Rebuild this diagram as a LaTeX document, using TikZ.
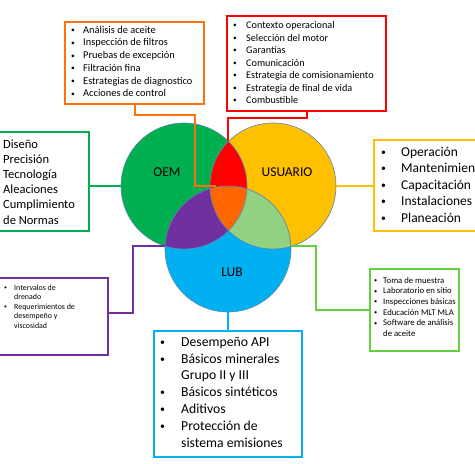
\documentclass[tikz,border=0pt]{standalone}
\usepackage{fontspec}
\setmainfont{Carlito}
\definecolor{oemc}{HTML}{00B050}
\definecolor{usrc}{HTML}{FFC000}
\definecolor{lubc}{HTML}{00B0F0}
\definecolor{redc}{HTML}{FF0000}
\definecolor{purc}{HTML}{7030A0}
\definecolor{lgc}{HTML}{92D182}
\definecolor{orc}{HTML}{FF6600}
\definecolor{obord}{HTML}{FF7010}
\definecolor{lgbord}{HTML}{62D040}
\definecolor{circline}{HTML}{5A86B0}
\newcommand{\bul}[1]{\makebox[#1][l]{\raisebox{0.12ex}{\scalebox{0.72}{•}}}}
\newcommand{\ind}[1]{\hspace*{#1}}
\tikzset{
  box/.style={draw, line width=2pt, inner sep=0pt, rectangle},
  txt/.style={inner sep=0pt, anchor=north west, align=left},
  venn/.style={circle, minimum size=126pt, inner sep=0pt},
  conn/.style={line width=2pt},
  vlabel/.style={inner sep=0pt, font=\fontsize{13.5}{16}\selectfont}
}
\begin{document}
\begin{tikzpicture}[x=1pt,y=-1pt]
\useasboundingbox (0,0) rectangle (475,464);
\clip (0,0) rectangle (475,464);
% Venn circles
\node[venn, fill=oemc] (oem) at (184,186) {};
\node[venn, fill=usrc] (usr) at (273,186) {};
\node[venn, fill=lubc] (lub) at (228,249) {};
\begin{scope}
  \clip (oem.center) circle[radius=63];
  \fill[redc] (usr.center) circle[radius=63];
  \fill[purc] (lub.center) circle[radius=63];
\end{scope}
\begin{scope}
  \clip (usr.center) circle[radius=63];
  \fill[lgc] (lub.center) circle[radius=63];
\end{scope}
\begin{scope}
  \clip (oem.center) circle[radius=63];
  \clip (usr.center) circle[radius=63];
  \fill[orc] (lub.center) circle[radius=63];
\end{scope}
\draw[circline, line width=0.6pt] (oem.center) circle[radius=63]
  (usr.center) circle[radius=63] (lub.center) circle[radius=63];
\node[vlabel] (loem) at (167,172.5) {OEM};
\node[vlabel] (lusr) at (287,172.5) {USUARIO};
\node[vlabel] (llub) at (232,272.5) {LUB};

% boxes
\node[box, draw=obord, minimum width=139pt, minimum height=82pt] (obox) at (134.5,63) {};
\node[box, draw=redc, minimum width=159pt, minimum height=95pt] (rbox) at (306.5,63.5) {};
\node[box, draw=oemc, minimum width=94pt, minimum height=99pt] (gbox) at (42,181.5) {};
\node[box, draw=usrc, minimum width=146pt, minimum height=91pt] (ybox) at (447,185.5) {};
\node[box, draw=purc, minimum width=113pt, minimum height=77pt] (pbox) at (51.5,316.5) {};
\node[box, draw=lgbord, minimum width=89pt, minimum height=82pt] (lgbox) at (414.5,310) {};
\node[box, draw=lubc, minimum width=148pt, minimum height=126pt] (bbox) at (228,394) {};

% texts
\node[txt, font=\fontsize{10.4}{12.7}\selectfont] (otxt) at (71,24.2) {\strut\bul{12pt}Análisis de aceite\\
\bul{12pt}Inspección de filtros\\
\bul{12pt}Pruebas de excepción\\
\bul{12pt}Filtración fina\\
\bul{12pt}Estrategias de diagnostico\\
\bul{12pt}Acciones de control};
\node[txt, font=\fontsize{10.2}{12.5}\selectfont] (rtxt) at (233,19.6) {\strut\bul{13pt}Contexto operacional\\
\bul{13pt}Selección del motor\\
\bul{13pt}Garantías\\
\bul{13pt}Comunicación\\
\bul{13pt}Estrategia de comisionamiento\\
\bul{13pt}Estrategia de final de vida\\
\bul{13pt}Combustible};
\node[txt, font=\fontsize{12.5}{15.2}\selectfont] (gtxt) at (3,137.3) {\strut Diseño\\
Precisión\\
Tecnología\\
Aleaciones\\
Cumplimiento\\
de Normas};
\node[txt, font=\fontsize{13.5}{16.5}\selectfont] (ytxt) at (381,144.5) {\strut\bul{20pt}Operación\\
\bul{20pt}Mantenimiento\\
\bul{20pt}Capacitación\\
\bul{20pt}Instalaciones\\
\bul{20pt}Planeación};
\node[txt, font=\fontsize{7.9}{9.5}\selectfont] (ptxt) at (4,283.2) {\strut\bul{10pt}Intervalos de\\
\ind{10pt}drenado\\
\bul{10pt}Requerimientos de\\
\ind{10pt}desempeño y\\
\ind{10pt}viscosidad};
\node[txt, font=\fontsize{8.7}{10.6}\selectfont] (lgtxt) at (374,275.6) {\strut\bul{9pt}Toma de muestra\\
\bul{9pt}Laboratorio en sitio\\
\bul{9pt}Inspecciones básicas\\
\bul{9pt}Educación MLT MLA\\
\bul{9pt}Software de análisis\\
\ind{9pt}de aceite};
\node[txt, font=\fontsize{13.7}{16.8}\selectfont] (btxt) at (160,334.4) {\strut\bul{21pt}Desempeño API\\
\bul{21pt}Básicos minerales\\
\ind{21pt}Grupo II y III\\
\bul{21pt}Básicos sintéticos\\
\bul{21pt}Aditivos\\
\bul{21pt}Protección de\\
\ind{21pt}sistema emisiones};

% connectors
\coordinate (otop) at (216,186);
\coordinate (oturn) at (195,115);
\coordinate (rlens) at (228,141);
\coordinate (pturn) at (133,313);
\coordinate (pend) at (165.1,246);
\coordinate (lgend) at (291,246);
\draw[conn, obord] (obox.south) |- (oturn) |- (otop);
\draw[conn, redc] (rbox.south) -- ++(0,6) -| (rlens);
\draw[conn, oemc] (gbox.east |- oem.west) -- (oem.west);
\draw[conn, usrc] (ybox.west |- usr.east) -- (usr.east);
\draw[conn, purc] (pbox.east |- pturn) -- (pturn) |- (pend);
\draw[conn, lgbord] (lgbox.west) -- ++(-53,0) |- (lgend);
\draw[conn, lubc] (bbox.north) -- (lub.south);
\end{tikzpicture}
\end{document}
